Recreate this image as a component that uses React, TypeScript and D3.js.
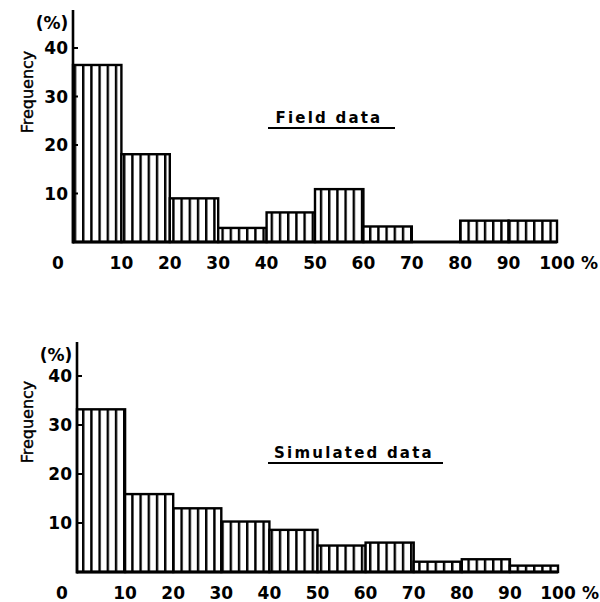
import React from 'react';
import * as d3 from 'd3';

// bin edges shared by both histograms (%)
const binStarts = [0, 10, 20, 30, 40, 50, 60, 70, 80, 90];
const xTicks = [0, 10, 20, 30, 40, 50, 60, 70, 80, 90, 100];
const yTicks = [10, 20, 30, 40];

// frequency (%) per bin
const fieldData = [36.5, 18.1, 9.0, 2.9, 6.1, 10.9, 3.2, 0, 4.4, 4.4];
const simulatedData = [33.2, 15.9, 13.0, 10.3, 8.6, 5.4, 6.0, 2.1, 2.6, 1.3];

const width = 600;
const height = 602;

const panels = [
  {
    key: 'field',
    title: 'Field data',
    values: fieldData,
    left: 73,
    right: 557,
    base: 242,
    y40: 48,
    axisTop: 10,
    titleX: 329,
    titleY: 123,
    lineX: [268, 395]
  },
  {
    key: 'sim',
    title: 'Simulated data',
    values: simulatedData,
    left: 77,
    right: 558,
    base: 572,
    y40: 376,
    axisTop: 342,
    titleX: 354,
    titleY: 458,
    lineX: [268, 443]
  }
];

const font = '"DejaVu Sans", Arial, sans-serif';

const Panel = ({ p }) => {
  const x = d3.scaleLinear().domain([0, 100]).range([p.left, p.right]);
  const y = d3.scaleLinear().domain([0, 40]).range([p.base, p.y40]);
  const bins = binStarts.map((s, i) => ({ x0: s, x1: s + 10, v: p.values[i] }));

  return (
    <g>
      {bins
        .filter(d => d.v > 0)
        .map(d => (
          <rect
            key={d.x0}
            x={x(d.x0)}
            y={y(d.v)}
            width={x(d.x1) - x(d.x0)}
            height={y(0) - y(d.v)}
            fill="url(#hatch)"
            stroke="#000"
            strokeWidth={2.4}
          />
        ))}
      {/* baseline */}
      <line x1={p.left} x2={x(100)} y1={y(0)} y2={y(0)} stroke="#000" strokeWidth={3} />
      {/* y axis */}
      <line x1={p.left} x2={p.left} y1={p.axisTop} y2={y(0) + 1.5} stroke="#000" strokeWidth={2.6} />
      {yTicks.map(t => (
        <g key={t}>
          <line x1={p.left} x2={p.left + 5} y1={y(t)} y2={y(t)} stroke="#000" strokeWidth={2} />
          <text
            x={p.left - 5}
            y={y(t) + 6}
            textAnchor="end"
            fontFamily={font}
            fontWeight="bold"
            fontSize={17}
          >
            {t}
          </text>
        </g>
      ))}
      <text
        x={p.left - 21}
        y={p.axisTop + 19}
        textAnchor="middle"
        fontFamily={font}
        fontWeight="bold"
        fontSize={17}
      >
        (%)
      </text>
      <text
        transform={`translate(${27},${p.base - 150}) rotate(-90)`}
        textAnchor="middle"
        dominantBaseline="central"
        fontFamily={font}
        fontSize={16}
        stroke="#000"
        strokeWidth={0.4}
      >
        Frequency
      </text>
      {xTicks.map(t => (
        <text
          key={t}
          x={t === 0 ? x(t) - 15 : x(t)}
          y={p.base + 27}
          textAnchor="middle"
          fontFamily={font}
          fontWeight="bold"
          fontSize={17}
        >
          {t}
        </text>
      ))}
      <text x={x(100) + 24} y={p.base + 27} fontFamily={font} fontWeight="bold" fontSize={17}>
        %
      </text>
      {/* panel title */}
      <text
        x={p.titleX}
        y={p.titleY}
        textAnchor="middle"
        fontFamily={font}
        fontWeight="bold"
        fontSize={15}
        letterSpacing={2.2}
      >
        {p.title}
      </text>
      <line x1={p.lineX[0]} x2={p.lineX[1]} y1={p.titleY + 5} y2={p.titleY + 5} stroke="#000" strokeWidth={1.8} />
    </g>
  );
};

export default function App() {
  return (
    <svg
      width={width}
      height={height}
      style={{ position: 'absolute', left: 0, top: 0, background: '#fff' }}
    >
      <defs>
        <pattern id="hatch" patternUnits="userSpaceOnUse" width={8.2} height={8}>
          <rect x={0} y={0} width={8.2} height={8} fill="#fff" />
          <rect x={0} y={0} width={2.4} height={8} fill="#000" />
        </pattern>
      </defs>
      <rect width={width} height={height} fill="#fff" />
      {panels.map(p => (
        <Panel key={p.key} p={p} />
      ))}
    </svg>
  );
}
